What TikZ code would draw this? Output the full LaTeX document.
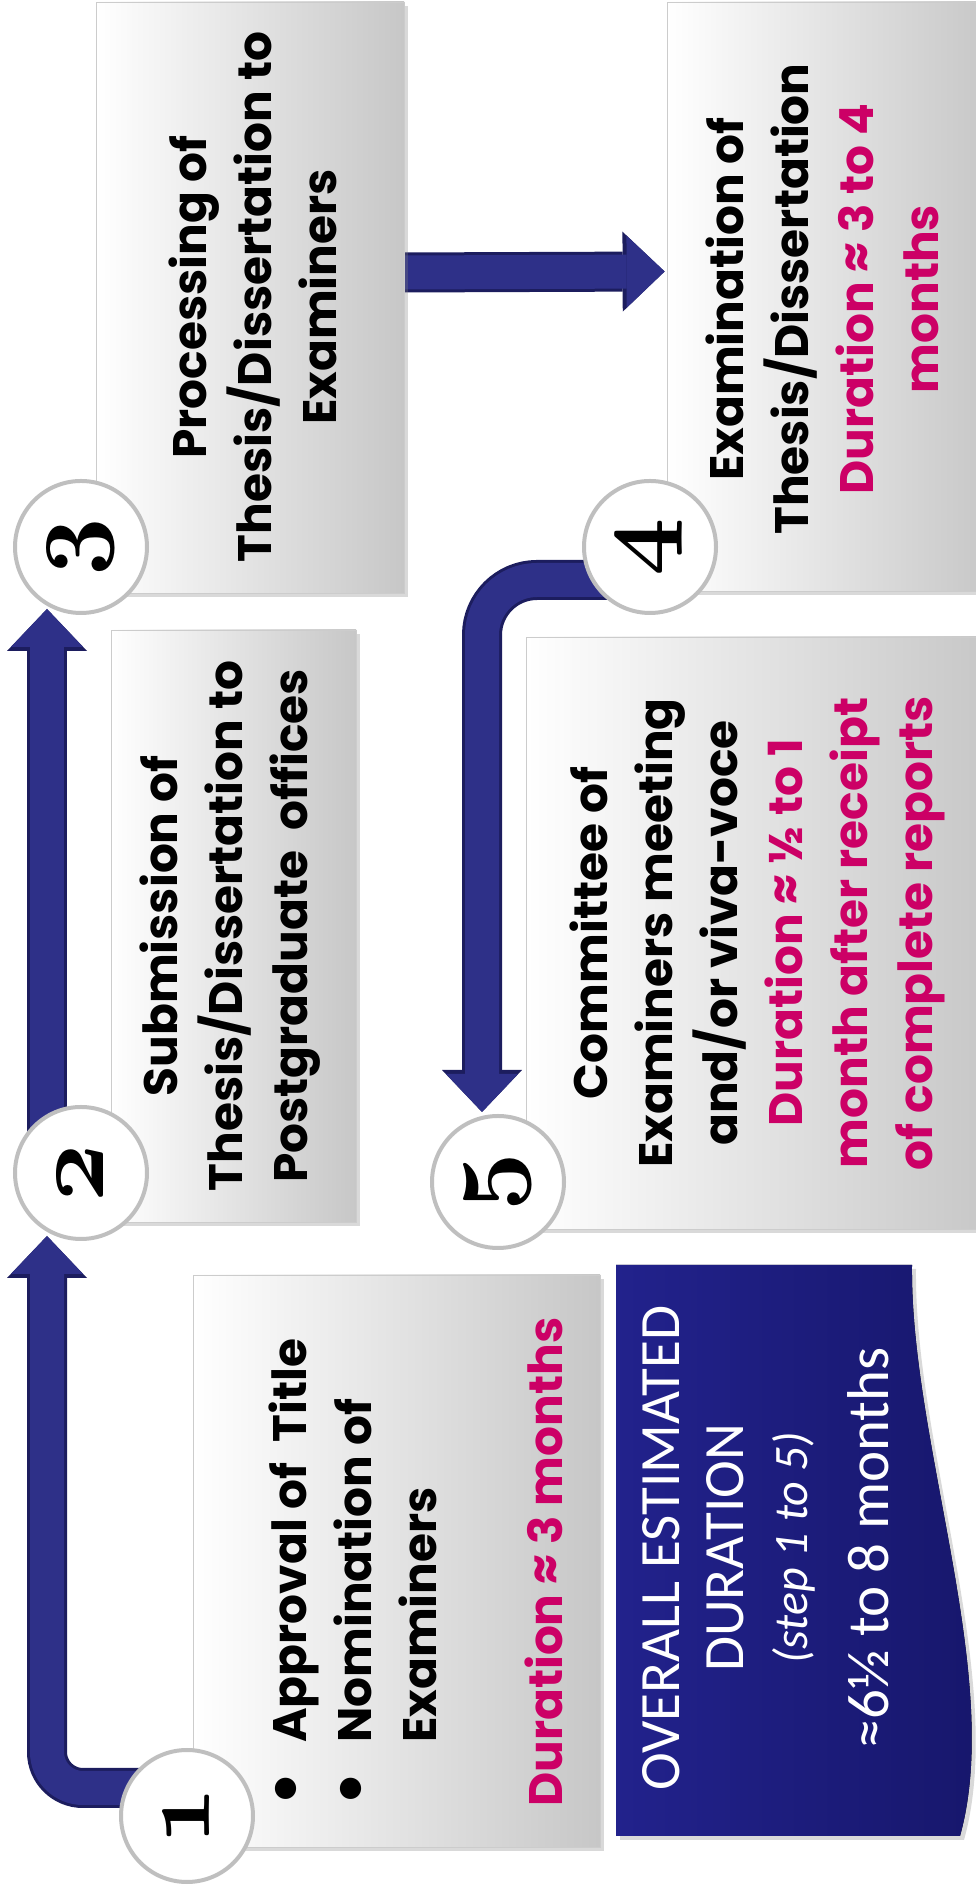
\documentclass[tikz,border=0pt]{standalone}
\usepackage{fontspec}
\newfontfamily\gothic{Poppins}
\newfontfamily\calib{Carlito}
\usetikzlibrary{arrows.meta,shadows,calc,backgrounds}

\definecolor{flownavy}{HTML}{2E3088}
\definecolor{flowedge}{HTML}{1C1D5E}
\definecolor{boxnavy}{HTML}{16166A}
\definecolor{boxnavylight}{HTML}{22228C}
\definecolor{durpink}{HTML}{CC0066}
\definecolor{ringgray}{HTML}{BFBFBF}

\newcommand{\durtxt}[1]{\textcolor{durpink}{#1}}
\newcommand{\bul}{\makebox[64pt][l]{\raisebox{-0.1ex}{\scalebox{1.5}{\textbullet}}}}
% old style bold digits for the step circles
\newcommand{\stepdigit}[1]{\scalebox{4.1}{\fontencoding{OML}\fontfamily{cmm}\fontseries{b}\fontshape{it}\fontsize{24.88}{25}\selectfont #1}}

\tikzset{
  stepbox/.style={rectangle, draw=black!20, line width=0.8pt, left color=white, right color=black!22,
    drop shadow={opacity=0.3, shadow xshift=4pt, shadow yshift=-4pt}},
  stepnum/.style={circle, draw=ringgray, line width=4pt, fill=white, minimum size=132pt, inner sep=0pt},
  steptext/.style={font=\gothic\bfseries\fontsize{47}{65}\selectfont, align=center, inner sep=0pt},
  flowarrow/.style={draw=flownavy, line width=34pt, -{Triangle[length=38pt,width=72pt,line width=0pt]},
    preaction={draw=flowedge, line width=40pt, -{Triangle[length=42pt,width=80pt,line width=0pt]}}},
}

\begin{document}
\begin{tikzpicture}
\useasboundingbox (0,0) rectangle (976pt,1893pt);
\begin{scope}[x=1pt, y=-1pt, rotate=90, transform shape]
% boxes
\node[stepbox, minimum width=572pt, minimum height=407pt] (s1) at (332,396.5) {};
\node[stepbox, minimum width=592pt, minimum height=245pt] (s2) at (967,233.5) {};
\node[stepbox, minimum width=591pt, minimum height=308pt] (s3) at (1595.5,250) {};
\node[stepbox, minimum width=589pt, minimum height=323pt] (s4) at (1596.5,828.5) {};
\node[stepbox, minimum width=592pt, minimum height=464pt] (s5) at (960,758) {};

% step texts
\node[steptext, align=left, anchor=west] (t1) at (86,416)
  {\bul Approval of\ \ Title\\ \bul Nomination of\\ \hspace*{64pt}Examiners\\[61pt] \durtxt{Duration ≈ 3 months}};
\node[steptext] (t2) at (967,230) {Submission of\\Thesis/Dissertation to\\Postgraduate\ \ offices};
\node[steptext] (t3) at (1596,253) {Processing of\\Thesis/Dissertation to\\Examiners};
\node[steptext] (t4) at (1594,822) {Examination of\\Thesis/Dissertation\\ \durtxt{Duration ≈ 3 to 4}\\ \durtxt{months}};
\node[steptext] (t5) at (960,757) {Committee of\\Examiners meeting\\and/or viva-voce\\ \durtxt{Duration ≈ ½ to 1}\\
  \durtxt{month after receipt}\\ \durtxt{of complete reports}};

% overall duration
\fill[left color=boxnavylight, right color=boxnavy, drop shadow={opacity=0.3, shadow xshift=4pt, shadow yshift=-4pt}]
  (57,616) -- (628,616) -- (628,912) .. controls (450,910) and (215,1004) .. (57,960) -- cycle;
\node[text=white, align=center, inner sep=0pt, font=\calib\fontsize{57}{64}\selectfont] (tn) at (345,766)
  {OVERALL ESTIMATED\\DURATION\\ {\itshape\fontsize{48}{62}\selectfont (step 1 to 5)}\\[17pt]
   {\fontsize{59}{64}\selectfont ≈6½ to 8 months}};

% numbered circles
\node[stepnum] (c1) at (77,187) {\stepdigit{1}};
\node[stepnum] (c2) at (720,81) {\stepdigit{2}};
\node[stepnum] (c3) at (1346,81) {\stepdigit{3}};
\node[stepnum] (c4) at (1346,650) {\stepdigit{4}};
\node[stepnum] (c5) at (711,498) {\stepdigit{5}};

% arrows
\begin{pgfonlayer}{background}
\draw[flowarrow, rounded corners=36pt] ($(c1)+(28,0)$) |- ($(c2)+(-63,-34)$);
\draw[flowarrow] ($(c2)+(0,-34)$) -- ($(c3)+(-62,-34)$);
\draw[flowarrow] ($(s3.south)+(25,0)$) -- ($(s4.north)+(25,-2)$);
\draw[flowarrow, rounded corners=55pt] ($(c4)+(-33,0)$) |- ($(c5)+(70,-16)$);
\end{pgfonlayer}
\end{scope}
\end{tikzpicture}
\end{document}
